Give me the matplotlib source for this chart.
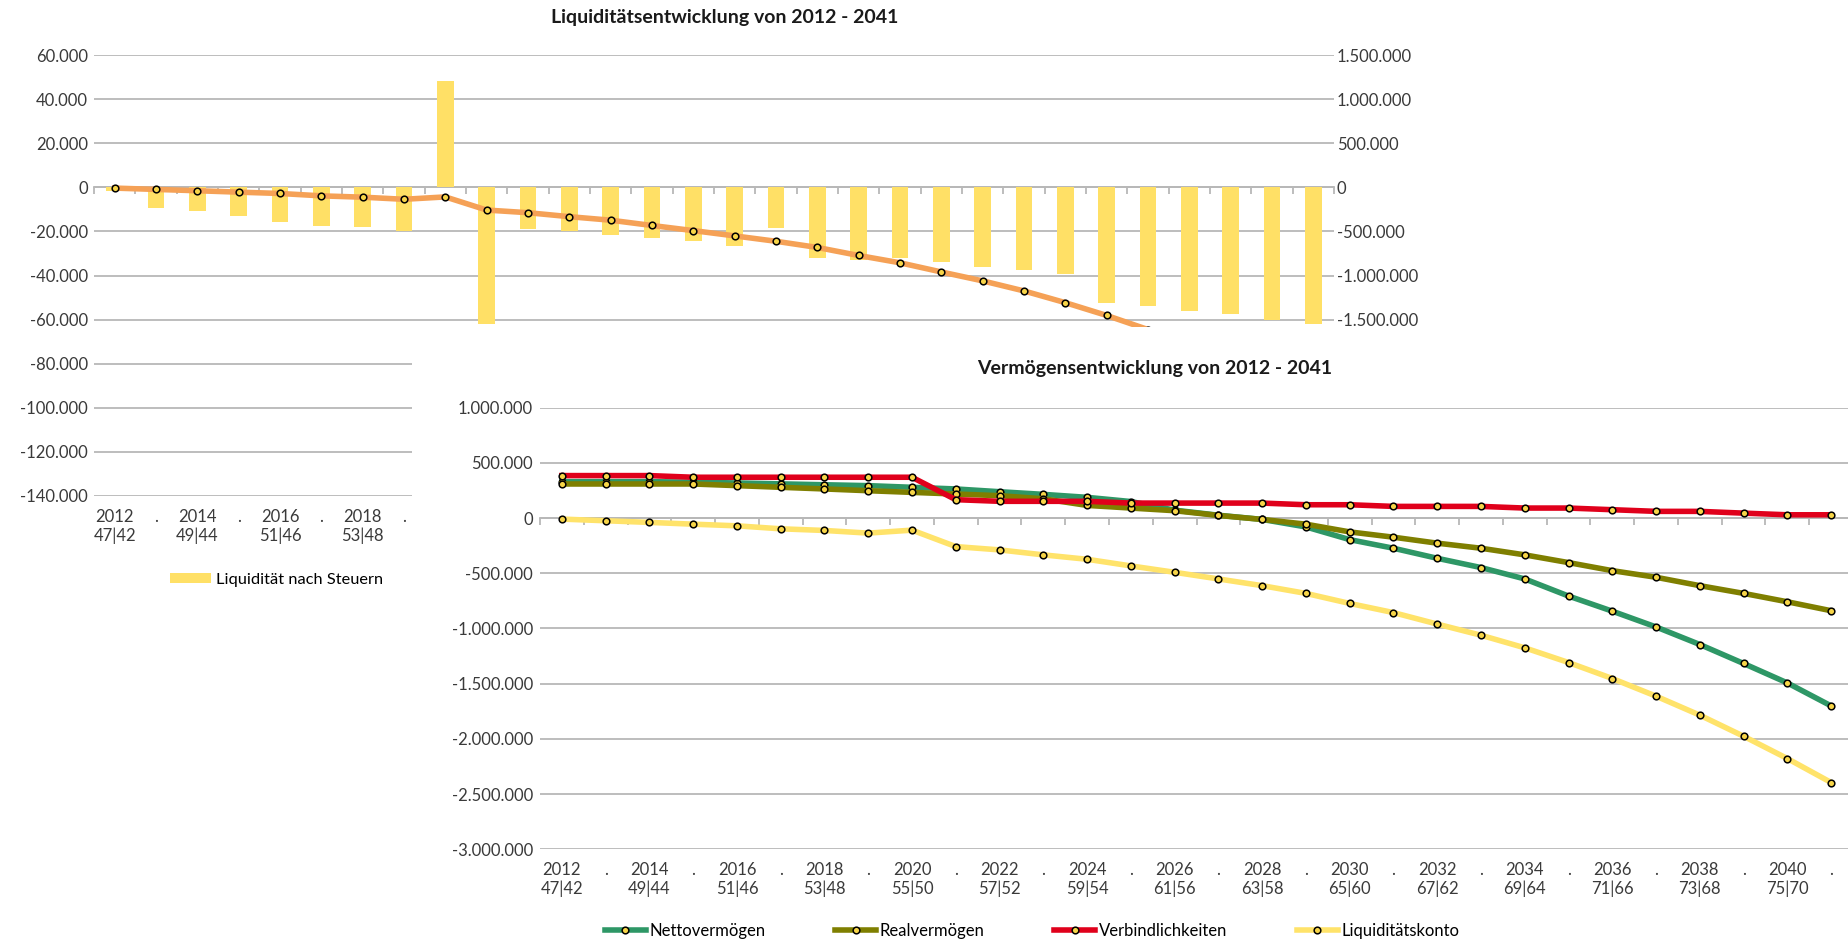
import matplotlib
matplotlib.use("Agg")
import matplotlib.pyplot as plt
from matplotlib.patches import Rectangle
from matplotlib.ticker import FuncFormatter
import numpy as np

plt.rcParams['font.family'] = ['Lato', 'DejaVu Sans']
plt.rcParams['font.size'] = 12

# --- data ---
years = list(range(2012, 2042))
tick_labels = [f"{y}\n{y - 1965}|{y - 1970}" if y % 2 == 0 else "." for y in years]

liq_nach_steuern = [-1500, -9300, -10800, -13000, -15700, -17400, -18100, -19800, 48200, -62000,
                    -18700, -19900, -21700, -22900, -24400, -26500, -18500, -31900, -33000, -31900,
                    -33700, -36000, -37500, -39400, -52400, -53900, -56200, -57400, -60000, -62000]

liquiditaetskonto = [-9000, -24000, -39000, -55000, -70000, -97000, -112000, -136000, -109000, -258000,
                     -288000, -333000, -373000, -433000, -491000, -551000, -612000, -682000, -773000, -856000,
                     -960000, -1061000, -1175000, -1308000, -1453000, -1613000, -1785000, -1976000, -2178000, -2395000]

nettovermoegen = [330000, 330000, 330000, 325000, 318000, 310000, 302000, 294000, 279000, 264000,
                  239000, 215000, 188000, 150000, 72000, 26000, -12000, -80000, -195000, -273000,
                  -364000, -448000, -551000, -706000, -843000, -986000, -1145000, -1317000, -1493000, -1701000]

realvermoegen = [309000, 309000, 309000, 309000, 294000, 279000, 264000, 248000, 233000, 218000,
                 203000, 175000, 115000, 91000, 67000, 24000, -12000, -55000, -125000, -173000,
                 -227000, -273000, -333000, -403000, -476000, -536000, -612000, -682000, -758000, -839000]

verbindlichkeiten = [385000, 385000, 385000, 370000, 370000, 370000, 370000, 370000, 370000, 167000,
                     152000, 152000, 152000, 136000, 136000, 136000, 136000, 121000, 121000, 106000,
                     106000, 106000, 91000, 91000, 76000, 61000, 61000, 45000, 30000, 30000]

BAR = '#ffe066'
ORANGE = '#f5a156'
GREEN = '#2e9766'
OLIVE = '#7f7f00'
RED = '#e0001b'
YELLOW = '#ffe36a'
MFC = '#f7d548'
GRID = '#b8b8b8'
TXT = '#3a3a3a'

W, H = 1849, 940
COVER_X, COVER_Y = 412, 327   # top-left corner of the second chart's white area (pixels)


def de_fmt(v, pos):
    return f"{int(round(v)):,}".replace(",", ".")


fmt = FuncFormatter(de_fmt)
x = np.arange(len(years))
mk = dict(marker='o', ms=4.8, mfc=MFC, mec='black', mew=1.1)

fig = plt.figure(figsize=(W / 100, H / 100), dpi=100)

# ---------- top chart: Liquiditaet ----------
ax1 = fig.add_axes([94 / W, 1 - 496 / H, 1240 / W, 441 / H])
ax1.bar(x, liq_nach_steuern, width=0.4, color=BAR, label='Liquidität nach Steuern', zorder=2)
ax1.set_xlim(-0.5, 29.5)
ax1.set_ylim(-140000, 60000)
ax1.set_yticks(range(-140000, 60001, 20000))
ax1.yaxis.set_major_formatter(fmt)
ax1.grid(axis='y', color=GRID, lw=1.3)
ax1.set_axisbelow(True)
for s in ax1.spines.values():
    s.set_visible(False)
ax1.tick_params(axis='y', length=0, pad=4.5, labelcolor=TXT)
ax1.set_xticks(x)
ax1.set_xticklabels(tick_labels)
ax1.tick_params(axis='x', length=0, pad=9, labelcolor=TXT)
for i, t in enumerate(ax1.get_xticklabels()):
    # labels under the second chart are not visible in the original
    if i >= 8:
        t.set_visible(False)

zero1 = ax1.secondary_xaxis(0.7)
zero1.set_xticks(np.arange(-0.5, 30, 1))
zero1.tick_params(direction='in', length=5, color=GRID, width=1.3, labeltop=False, labelbottom=False)
for s in zero1.spines.values():
    s.set_color(GRID)
    s.set_linewidth(1.3)

ax1r = ax1.twinx()
ax1r.plot(x, liquiditaetskonto, color=ORANGE, lw=4, zorder=3, **mk)
ax1r.set_ylim(-3500000, 1500000)
ax1r.set_yticks(range(-1500000, 1500001, 500000))
ax1r.yaxis.set_major_formatter(fmt)
for s in ax1r.spines.values():
    s.set_visible(False)
ax1r.tick_params(axis='y', length=0, pad=2, labelcolor=TXT)

ax1.legend(loc='center', bbox_to_anchor=(277 / W, 1 - 580 / H), bbox_transform=fig.transFigure,
           frameon=False, fontsize=11.8, handlelength=2.5, handleheight=0.6, handletextpad=0.3)

fig.text(725 / W, 1 - 18 / H, 'Liquiditätsentwicklung von 2012 - 2041', ha='center', va='center',
         fontsize=14, fontweight='bold', color='#1a1a1a')

# white chart area of the second chart lies over the first one
fig.add_artist(Rectangle((COVER_X / W, 0), 1 - COVER_X / W, 1 - COVER_Y / H, transform=fig.transFigure,
                         facecolor='white', edgecolor='none', zorder=1))

# ---------- bottom chart: Vermoegen ----------
ax2 = fig.add_axes([540 / W, 1 - 849.3 / H, 1313 / W, 441.6 / H], zorder=2)
ax2.plot(x, nettovermoegen, color=GREEN, lw=4, label='Nettovermögen', **mk)
ax2.plot(x, realvermoegen, color=OLIVE, lw=4, label='Realvermögen', **mk)
ax2.plot(x, verbindlichkeiten, color=RED, lw=4, label='Verbindlichkeiten', **mk)
ax2.plot(x, liquiditaetskonto, color=YELLOW, lw=4, label='Liquiditätskonto', **mk)
ax2.set_xlim(-0.5, 29.5)
ax2.set_ylim(-3000000, 1000000)
ax2.set_yticks(range(-3000000, 1000001, 500000))
ax2.yaxis.set_major_formatter(fmt)
ax2.grid(axis='y', color=GRID, lw=1.3)
ax2.set_axisbelow(True)
for s in ax2.spines.values():
    s.set_visible(False)
ax2.tick_params(axis='y', length=0, pad=5, labelcolor=TXT)
ax2.set_xticks(x)
ax2.set_xticklabels(tick_labels)
ax2.tick_params(axis='x', length=0, pad=9, labelcolor=TXT)

zero2 = ax2.secondary_xaxis(0.75)
zero2.set_xticks(np.arange(-0.5, 30, 1))
zero2.tick_params(direction='in', length=5, color=GRID, width=1.3, labeltop=False, labelbottom=False)
for s in zero2.spines.values():
    s.set_color(GRID)
    s.set_linewidth(1.3)

ax2.legend(loc='center', bbox_to_anchor=(1032 / W, 1 - 931 / H), bbox_transform=fig.transFigure,
           ncol=4, frameon=False, fontsize=12, handlelength=2.45, columnspacing=4.2, handletextpad=0.2,
           borderpad=0.2)

fig.text(1155 / W, 1 - 369 / H, 'Vermögensentwicklung von 2012 - 2041', ha='center', va='center',
         fontsize=14, fontweight='bold', color='#1a1a1a', zorder=3)

fig.savefig('out.png', dpi=100)
